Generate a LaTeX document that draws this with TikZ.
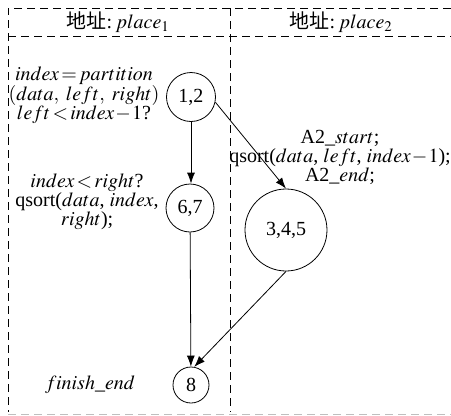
\documentclass[tikz,border=0pt]{standalone}
\usepackage{mathptmx}
\usepackage{fontspec}
\setmainfont{Liberation Serif}
\newfontfamily\cjk{Noto Sans CJK SC}
\usetikzlibrary{arrows.meta}

% tight relations and a visible gap after commas
\newcommand{\req}{\mkern2mu{=}\mkern2mu}
\newcommand{\rlt}{\mkern2mu{<}\mkern2mu}
\newcommand{\rmi}{\mkern1mu{-}\mkern1mu}
\newcommand{\cm}{,\;}

\begin{document}
\begin{tikzpicture}[x=1pt,y=-1pt,
  frame/.style={line width=0.8pt, dash pattern=on 8pt off 5pt},
  state/.style={draw, circle, line width=0.8pt, inner sep=0pt, font=\fontsize{20}{19}\selectfont},
  note/.style={align=center, inner sep=0pt, font=\fontsize{20}{19}\selectfont},
  flow/.style={line width=0.8pt, -{Latex[length=11pt,width=8pt]}}]
\useasboundingbox (0,0) rectangle (451,416);

% lane frame
\draw[frame] (451,8) -- (8,8) -- (8,412);
\draw[frame] (8,36) -- (451,36);
\draw[frame] (230,8) -- (230,412);
\draw[frame, black!25] (8,414.5) -- (451,414.5);

% lane headers
\node[note] (h1) at (118,22) {{\cjk 地址}:\,$place_1$};
\node[note] (h2) at (341,22) {{\cjk 地址}:\,$place_2$};

% states
\node[state, minimum size=49pt] (n12)  at (191,97)  {1,2};
\node[state, minimum size=48pt] (n67)  at (190,208) {6,7};
\node[state, minimum size=82pt] (n345) at (286,230) {3,4,5};
\node[state, minimum size=36pt] (n8)   at (191,385) {8};

% annotations
\node[note] (t12) at (84,95) {$index\req partition$\\$(data\cm left\cm right)$\\$left\rlt index\rmi 1$?};
\node[note] (t67) at (87,202) {$index\rlt right$?\\qsort($data$, $index$,\\$right$);};
\node[note] (t345) at (340,157) {A2\_$start$;\\qsort($data$, $left$, $index\rmi 1$);\\A2\_$end$;};
\node[note] (t8) at (90,385) {$finish$\_$end$};

% transitions
\draw[flow] (n12) -- (n12 |- n67.north);
\draw[flow] (n12.-12) -- (n345.north);
\draw[flow] (n67) -- (n8);
\draw[flow] (n345.south) -- (n8.80);
\end{tikzpicture}
\end{document}
